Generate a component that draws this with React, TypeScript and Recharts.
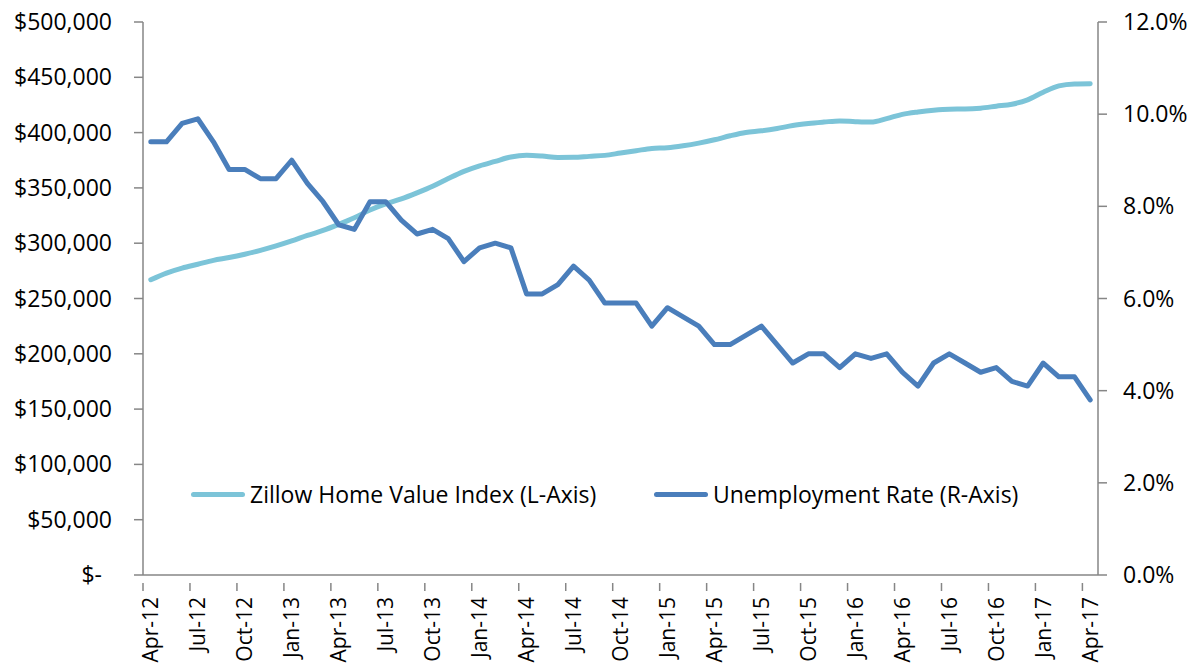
import { CartesianGrid, Legend, Line, LineChart, XAxis, YAxis } from 'recharts';

const months = [
  'Apr-12', 'May-12', 'Jun-12', 'Jul-12', 'Aug-12', 'Sep-12', 'Oct-12', 'Nov-12', 'Dec-12',
  'Jan-13', 'Feb-13', 'Mar-13', 'Apr-13', 'May-13', 'Jun-13', 'Jul-13', 'Aug-13', 'Sep-13', 'Oct-13', 'Nov-13', 'Dec-13',
  'Jan-14', 'Feb-14', 'Mar-14', 'Apr-14', 'May-14', 'Jun-14', 'Jul-14', 'Aug-14', 'Sep-14', 'Oct-14', 'Nov-14', 'Dec-14',
  'Jan-15', 'Feb-15', 'Mar-15', 'Apr-15', 'May-15', 'Jun-15', 'Jul-15', 'Aug-15', 'Sep-15', 'Oct-15', 'Nov-15', 'Dec-15',
  'Jan-16', 'Feb-16', 'Mar-16', 'Apr-16', 'May-16', 'Jun-16', 'Jul-16', 'Aug-16', 'Sep-16', 'Oct-16', 'Nov-16', 'Dec-16',
  'Jan-17', 'Feb-17', 'Mar-17', 'Apr-17',
];

const homeValue = [
  267000, 273000, 277500, 281000, 284500, 287000, 290000, 293500, 297500,
  302000, 307000, 311500, 317000, 323000, 330000, 335500, 340000, 345500, 351500, 358500, 365000,
  370000, 374000, 378000, 379500, 378800, 377500, 377600, 378500, 379400, 381500, 383600, 385700,
  386300, 388100, 390500, 393500, 397100, 400100, 401600, 403700, 406400, 408200, 409500, 410600,
  409900, 409500, 412600, 416500, 418700, 420300, 421200, 421300, 422100, 423900, 425700, 429600,
  436500, 442200, 444000, 444200,
];

const unemployment = [
  9.4, 9.4, 9.8, 9.9, 9.4, 8.8, 8.8, 8.6, 8.6,
  9.0, 8.5, 8.1, 7.6, 7.5, 8.1, 8.1, 7.7, 7.4, 7.5, 7.3, 6.8,
  7.1, 7.2, 7.1, 6.1, 6.1, 6.3, 6.7, 6.4, 5.9, 5.9, 5.9, 5.4,
  5.8, 5.6, 5.4, 5.0, 5.0, 5.2, 5.4, 5.0, 4.6, 4.8, 4.8, 4.5,
  4.8, 4.7, 4.8, 4.4, 4.1, 4.6, 4.8, 4.6, 4.4, 4.5, 4.2, 4.1,
  4.6, 4.3, 4.3, 3.8,
];

const leftTicks = [0, 50000, 100000, 150000, 200000, 250000, 300000, 350000, 400000, 450000, 500000];
const rightTicks = [0, 2, 4, 6, 8, 10, 12];

const data = months.map((m, i) => ({ month: m, zhvi: homeValue[i], rate: unemployment[i] }));

const FONT = 'Open Sans, sans-serif';
const AXIS = '#868686';
const LIGHT = '#7CC4D8';
const DARK = '#4A7EBB';
const HALF_STEP = 7.8;

function fmtDollar(v: number) {
  if (v === 0) return '$-';
  return '$' + v.toLocaleString('en-US');
}

function LeftTick(props: any) {
  const { x, y, payload } = props;
  const zero = payload.value === 0;
  return (
    <text x={x} y={y} dx={zero ? -10 : 0} dy="0.35em" textAnchor="end" fontFamily={FONT} fontSize={23} fill="#000">
      {fmtDollar(payload.value)}
    </text>
  );
}

function MonthTick(props: any) {
  const { x, y, payload } = props;
  return (
    <g transform={`translate(${x},${y})`}>
      <line x1={-HALF_STEP} x2={-HALF_STEP} y1={0} y2={8} stroke={AXIS} strokeWidth={1.5} />
      <text transform="rotate(-90)" x={-14} y={0} dy="0.36em" textAnchor="end" fontFamily={FONT} fontSize={21} fill="#000">
        {payload.value}
      </text>
    </g>
  );
}

function LegendBox() {
  const item = (left: number, color: string, label: string) => (
    <div style={{ position: 'absolute', left, top: 0, display: 'flex', alignItems: 'center', whiteSpace: 'nowrap' }}>
      <div style={{ width: 54, height: 5, borderRadius: 3, background: color }} />
      <span style={{ fontFamily: FONT, fontSize: 23, color: '#000', marginLeft: 5 }}>{label}</span>
    </div>
  );
  return (
    <div style={{ position: 'relative', height: 0 }}>
      {item(191, LIGHT, 'Zillow Home Value Index (L-Axis)')}
      {item(654, DARK, 'Unemployment Rate (R-Axis)')}
    </div>
  );
}

export default function App() {
  return (
    <div style={{ position: 'absolute', left: 0, top: 0, width: 1201, height: 667, background: '#fff' }}>
      <LineChart width={1201} height={667} data={data} margin={{ top: 22, right: 0, bottom: 0, left: 0 }}>
        <CartesianGrid stroke="none" />
        <XAxis
          dataKey="month"
          interval={2}
          height={92}
          padding={{ left: HALF_STEP, right: HALF_STEP }}
          axisLine={{ stroke: AXIS, strokeWidth: 1.5 }}
          tickLine={false}
          tick={<MonthTick />}
        />
        <YAxis
          yAxisId="left"
          orientation="left"
          width={143}
          domain={[0, 500000]}
          ticks={leftTicks}
          axisLine={{ stroke: AXIS, strokeWidth: 1.5 }}
          tickLine={{ stroke: AXIS, strokeWidth: 1.5 }}
          tickSize={9}
          tickMargin={22}
          tick={<LeftTick />}
        />
        <YAxis
          yAxisId="right"
          orientation="right"
          width={103}
          domain={[0, 12]}
          ticks={rightTicks}
          axisLine={{ stroke: AXIS, strokeWidth: 1.5 }}
          tickLine={{ stroke: AXIS, strokeWidth: 1.5 }}
          tickSize={9}
          tickMargin={16}
          tick={{ fontFamily: FONT, fontSize: 23, fill: '#000' }}
          tickFormatter={(v: number) => `${v.toFixed(1)}%`}
        />
        <Legend content={<LegendBox />} wrapperStyle={{ top: 478, left: 0, width: 1201, height: 0 }} />
        <Line
          yAxisId="left"
          type="monotone"
          dataKey="zhvi"
          name="Zillow Home Value Index (L-Axis)"
          stroke={LIGHT}
          strokeWidth={5}
          strokeLinecap="round"
          dot={false}
          isAnimationActive={false}
        />
        <Line
          yAxisId="right"
          type="linear"
          dataKey="rate"
          name="Unemployment Rate (R-Axis)"
          stroke={DARK}
          strokeWidth={5}
          strokeLinejoin="round"
          strokeLinecap="round"
          dot={false}
          isAnimationActive={false}
        />
      </LineChart>
    </div>
  );
}
